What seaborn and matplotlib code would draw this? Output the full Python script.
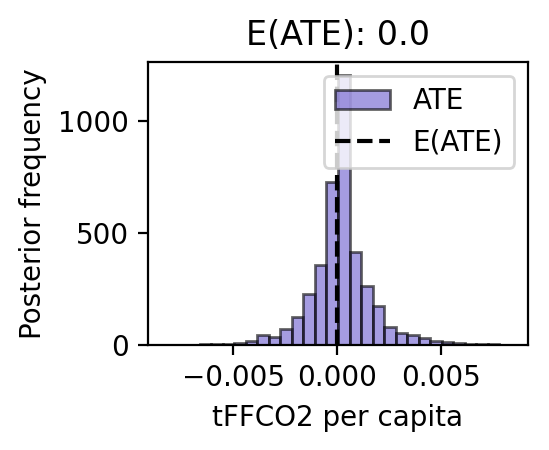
import numpy as np
import pandas as pd
import matplotlib
matplotlib.use("Agg")
import matplotlib.pyplot as plt
import seaborn as sns

# Histogram data (30 equal-width bins)
x_min = -0.00827
x_max = 0.00838
counts = [1, 1, 2, 4, 4, 6, 7, 20, 45, 37,
          70, 127, 228, 358, 728, 1205, 415, 262, 173, 82,
          55, 45, 30, 19, 13, 7, 5, 5, 3, 1]
ate_mean = 0.0

edges = np.linspace(x_min, x_max, len(counts) + 1)
centers = (edges[:-1] + edges[1:]) / 2
df = pd.DataFrame({"ate": centers, "count": counts})

fig, ax = plt.subplots(figsize=(2.745, 2.25), dpi=200)
sns.histplot(data=df, x="ate", weights="count", bins=len(counts),
             binrange=(x_min, x_max), color="slateblue",
             alpha=0.6, edgecolor=(0, 0, 0, 0.6), linewidth=1.0,
             label="ATE", ax=ax)
ax.axvline(ate_mean, color="black", linestyle="--", label="E(ATE)")
ax.set_title(f"E(ATE): {ate_mean}")
ax.set_xlabel("tFFCO2 per capita")
ax.set_ylabel("Posterior frequency")
handles, labels = ax.get_legend_handles_labels()
order = [labels.index("ATE"), labels.index("E(ATE)")]
ax.legend([handles[i] for i in order], [labels[i] for i in order],
          loc="upper right")
fig.subplots_adjust(left=0.2696, right=0.9617, top=0.8622, bottom=0.2333)
fig.savefig("out.png", dpi=200)
